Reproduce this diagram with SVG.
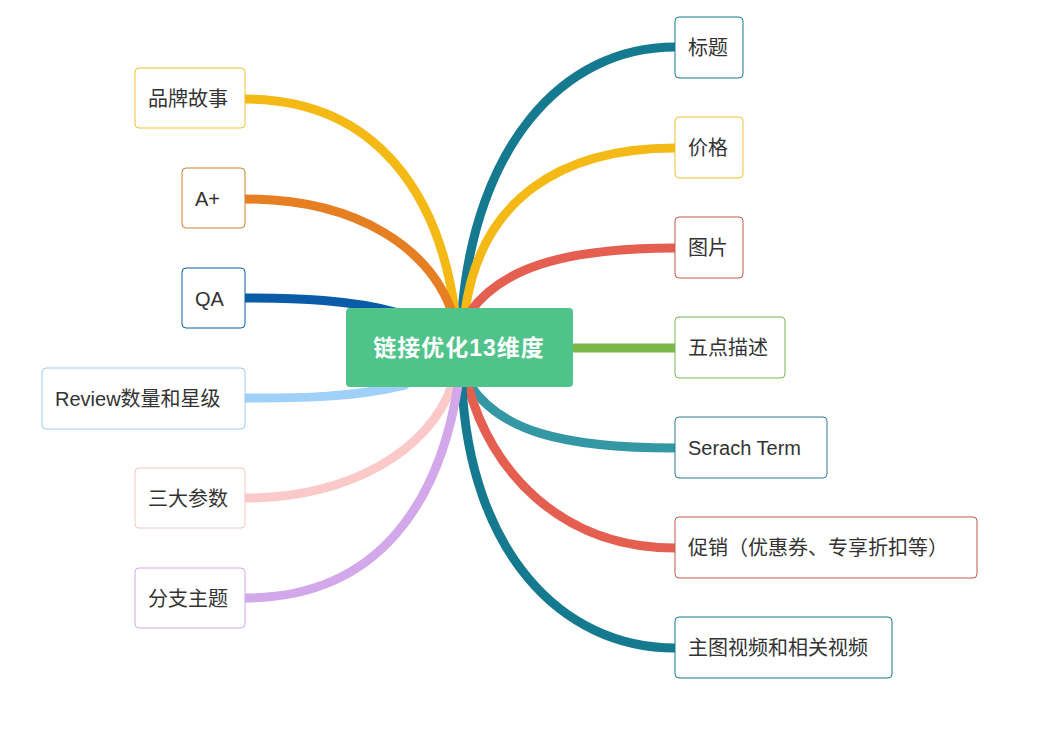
<svg xmlns="http://www.w3.org/2000/svg" width="1044" height="731" viewBox="0 0 1044 731">
<style>
.c{fill:none;stroke-width:9;stroke-linecap:round}
.n{fill:#fff;stroke-width:1}
.t{font-family:"Liberation Sans","Noto Sans CJK SC",sans-serif;font-size:20px;fill:#333;dominant-baseline:central}
</style>
<rect width="1044" height="731" fill="#fff"/>
<g id="connectors">
<path class="c" stroke="#15798f" d="M462,312 C475,150 560,47 675,47"/>
<path class="c" stroke="#f5b916" d="M465,312 C480,200 560,148 675,148"/>
<path class="c" stroke="#e55f50" d="M470,312 C500,270 560,248 675,248"/>
<path class="c" stroke="#7ab648" d="M570,348 L675,348"/>
<path class="c" stroke="#3498a4" d="M470,385 C500,430 560,448 675,448"/>
<path class="c" stroke="#e55f50" d="M468,385 C490,470 560,548 675,548"/>
<path class="c" stroke="#15798f" d="M462,385 C470,550 560,648 675,648"/>
<path class="c" stroke="#f5b916" d="M455,312 C440,200 380,99 245,99"/>
<path class="c" stroke="#e67e22" d="M452,312 C430,250 360,199 245,199"/>
<path class="c" stroke="#0a5ca8" d="M395,312 C350,300 300,298 245,298"/>
<path class="c" stroke="#9fd0f8" d="M405,385 C350,398 300,398 245,398"/>
<path class="c" stroke="#fcc9c9" d="M452,385 C430,450 350,498 245,498"/>
<path class="c" stroke="#d3a8ea" d="M458,385 C440,500 380,598 245,598"/>
</g>
<g id="center"><rect x="346" y="308" width="227" height="79" rx="4" fill="#4fc38a"/>
<text x="459" y="348" text-anchor="middle" class="t" style="fill:#fff;font-weight:bold;font-size:23px;letter-spacing:1px">链接优化13维度</text></g>
<g id="r1"><rect class="n" x="675" y="17" width="68" height="61" rx="4" stroke="#15798f"/><text class="t" x="688" y="48">标题</text></g>
<g id="r2"><rect class="n" x="675" y="117" width="68" height="61" rx="4" stroke="#f2c12e"/><text class="t" x="688" y="148">价格</text></g>
<g id="r3"><rect class="n" x="675" y="217" width="68" height="61" rx="4" stroke="#c0584c"/><text class="t" x="688" y="248">图片</text></g>
<g id="r4"><rect class="n" x="675" y="317" width="110" height="61" rx="4" stroke="#7ab648"/><text class="t" x="688" y="348">五点描述</text></g>
<g id="r5"><rect class="n" x="675" y="417" width="152" height="61" rx="4" stroke="#2a7f8f"/><text class="t" x="688" y="448">Serach Term</text></g>
<g id="r6"><rect class="n" x="675" y="517" width="302" height="61" rx="4" stroke="#c0584c"/><text class="t" x="688" y="548">促销（优惠券、专享折扣等）</text></g>
<g id="r7"><rect class="n" x="675" y="617" width="217" height="61" rx="4" stroke="#15798f"/><text class="t" x="688" y="648">主图视频和相关视频</text></g>
<g id="l1"><rect class="n" x="135" y="68" width="110" height="60" rx="4" stroke="#f2c12e"/><text class="t" x="148" y="99">品牌故事</text></g>
<g id="l2"><rect class="n" x="182" y="168" width="63" height="60" rx="4" stroke="#d08030"/><text class="t" x="195" y="199">A+</text></g>
<g id="l3"><rect class="n" x="182" y="268" width="63" height="60" rx="4" stroke="#0a5ca8"/><text class="t" x="195" y="299">QA</text></g>
<g id="l4"><rect class="n" x="42" y="368" width="203" height="61" rx="4" stroke="#9fc8e8"/><text class="t" x="55" y="399">Review数量和星级</text></g>
<g id="l5"><rect class="n" x="135" y="468" width="110" height="60" rx="4" stroke="#f5c6c6"/><text class="t" x="148" y="499">三大参数</text></g>
<g id="l6"><rect class="n" x="135" y="568" width="110" height="60" rx="4" stroke="#d3a8ea"/><text class="t" x="148" y="599">分支主题</text></g>
</svg>
